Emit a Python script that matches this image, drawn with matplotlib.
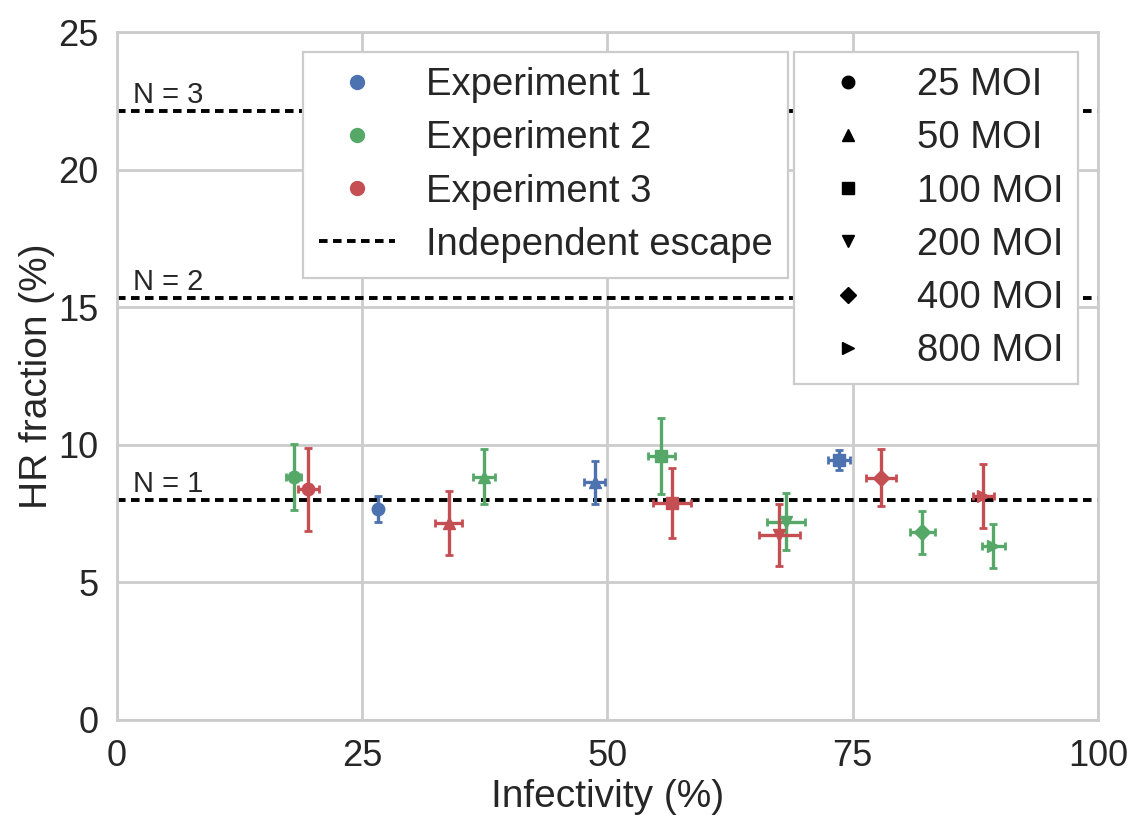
import matplotlib
matplotlib.use("Agg")
import matplotlib.pyplot as plt
from matplotlib.lines import Line2D
import seaborn as sns

# Values
moi_labels = ["25 MOI", "50 MOI", "100 MOI", "200 MOI", "400 MOI", "800 MOI"]
moi_markers = ["o", "^", "s", "v", "D", ">"]

exp_names = ["Experiment 1", "Experiment 2", "Experiment 3"]
exp_colors = ["#4C72B0", "#55A868", "#C44E52"]

exp1_moi = [0, 1, 2]
exp1_x = [26.6, 48.7, 73.6]
exp1_y = [7.67, 8.63, 9.45]
exp1_xerr = [0.35, 1.07, 1.17]
exp1_yerr = [0.48, 0.78, 0.35]

exp2_moi = [0, 1, 2, 3, 4, 5]
exp2_x = [18.0, 37.4, 55.5, 68.2, 82.1, 89.3]
exp2_y = [8.84, 8.84, 9.59, 7.21, 6.82, 6.32]
exp2_xerr = [0.75, 1.1, 1.36, 1.89, 1.3, 1.17]
exp2_yerr = [1.2, 1.0, 1.38, 1.05, 0.79, 0.8]

exp3_moi = [0, 1, 2, 3, 4, 5]
exp3_x = [19.5, 33.8, 56.6, 67.5, 77.9, 88.3]
exp3_y = [8.38, 7.15, 7.87, 6.72, 8.81, 8.14]
exp3_xerr = [1.07, 1.4, 1.96, 2.09, 1.5, 1.05]
exp3_yerr = [1.52, 1.17, 1.27, 1.13, 1.02, 1.17]

# Independent escape levels for N = 1, 2, 3
escape_levels = [8.0, 15.33, 22.12]
escape_labels = ["N = 1", "N = 2", "N = 3"]

sns.set_style("whitegrid")
plt.rcParams["font.family"] = ["Liberation Sans", "DejaVu Sans"]
plt.rcParams["axes.edgecolor"] = "#cccccc"
plt.rcParams["grid.color"] = "#cccccc"

fig = plt.figure(figsize=(11.28, 8.15), dpi=100)
ax = fig.add_axes([0.1037, 0.1166, 0.8697, 0.8441])

experiments = [
    (exp1_moi, exp1_x, exp1_y, exp1_xerr, exp1_yerr),
    (exp2_moi, exp2_x, exp2_y, exp2_xerr, exp2_yerr),
    (exp3_moi, exp3_x, exp3_y, exp3_xerr, exp3_yerr),
]

# Dashed lines for independent escape
for level, lab in zip(escape_levels, escape_labels):
    ax.axhline(level, color="black", lw=2.8, dashes=(2.2, 1.4), zorder=2)
    ax.text(1.6, level + 0.08, lab, fontsize=21, color="#262626", va="bottom", ha="left", zorder=2)

# Data points with error bars
for (mois, xs, ys, xes, yes), color in zip(experiments, exp_colors):
    for m, x, y, xe, ye in zip(mois, xs, ys, xes, yes):
        ms = 8 if moi_markers[m] == "D" else 9
        ax.errorbar(x, y, xerr=xe, yerr=ye, fmt=moi_markers[m], color=color,
                    ms=ms, elinewidth=2.4, capsize=3, capthick=2, zorder=3)

ax.set_xlim(0, 100)
ax.set_ylim(0, 25)
ax.set_xticks([0, 25, 50, 75, 100])
ax.set_yticks([0, 5, 10, 15, 20, 25])
ax.tick_params(labelsize=26, colors="#262626", pad=10)
ax.grid(True, lw=2.0)
for sp in ax.spines.values():
    sp.set_linewidth(2.0)
    sp.set_color("#cccccc")

ax.set_xlabel("Infectivity (%)", fontsize=28, color="#262626", labelpad=4)
ax.set_ylabel("HR fraction (%)", fontsize=28, color="#262626", labelpad=2)

# Legend for experiments
exp_handles = [Line2D([], [], ls="none", marker="o", color=c, ms=10) for c in exp_colors]
exp_handles.append(Line2D([], [], color="black", lw=2.8, dashes=(2.2, 1.4)))
leg1 = ax.legend(exp_handles, exp_names + ["Independent escape"], loc="upper left",
                 bbox_to_anchor=(0.19, 0.971), fontsize=27.5, labelspacing=0.45,
                 frameon=True, fancybox=False, edgecolor="#cccccc", framealpha=1,
                 borderaxespad=0)
leg1.get_frame().set_linewidth(1.6)
leg1.set_zorder(5)
ax.add_artist(leg1)

# Legend for MOI
moi_handles = [Line2D([], [], ls="none", marker=m, color="black", ms=9 if m != "D" else 8)
               for m in moi_markers]
leg2 = ax.legend(moi_handles, moi_labels, loc="upper right", bbox_to_anchor=(0.98, 0.971),
                 fontsize=27.5, labelspacing=0.45, frameon=True, fancybox=False,
                 edgecolor="#cccccc", framealpha=1, borderaxespad=0)
leg2.get_frame().set_linewidth(1.6)
leg2.set_zorder(5)

fig.savefig("out.png", dpi=100)
